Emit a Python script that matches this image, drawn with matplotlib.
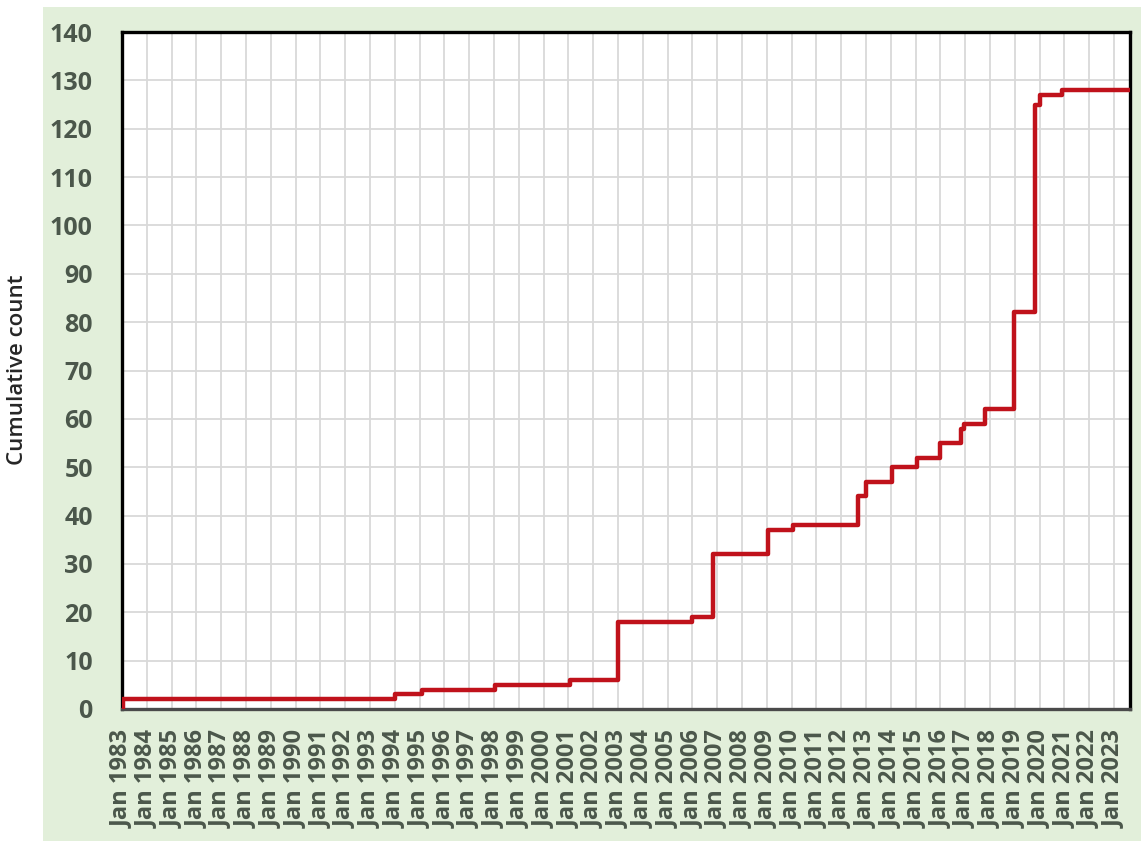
import pandas as pd
import matplotlib
matplotlib.use("Agg")
import matplotlib.pyplot as plt
import matplotlib.dates as mdates
from matplotlib.patches import Rectangle

plt.rcParams['font.family'] = ['Open Sans', 'DejaVu Sans']

# cumulative count (value holds from each date on)
event_dates = [
    "1983-01-01", "1983-01-20", "1994-01-01", "1995-02-05", "1998-01-20",
    "2001-01-20", "2003-01-01", "2006-01-01", "2006-11-05", "2009-01-20",
    "2010-01-20", "2012-09-10", "2013-01-01", "2014-01-20", "2015-01-20",
    "2016-01-01", "2016-11-05", "2016-12-15", "2017-10-20", "2018-12-20",
    "2019-10-25", "2020-01-05", "2020-11-25", "2023-08-25",
]
cumulative = [
    0, 2, 3, 4, 5,
    6, 18, 19, 32, 37,
    38, 44, 47, 50, 52,
    55, 58, 59, 62, 82,
    125, 127, 128, 128,
]
tick_years = list(range(1983, 2024))
y_ticks = list(range(0, 141, 10))

dates = pd.to_datetime(event_dates)

fig = plt.figure(figsize=(11.41, 8.41), dpi=100)
fig.patch.set_facecolor("white")
# light green panel behind the chart
fig.patches.append(Rectangle((43 / 1141, 0), 1 - 43 / 1141, 1 - 7 / 841,
                             transform=fig.transFigure, facecolor="#e2efda",
                             edgecolor="none", zorder=-1))

ax = fig.add_axes([122 / 1141, 132 / 841, 1008 / 1141, 677 / 841])
ax.set_zorder(1)
ax.set_facecolor("white")

ax.plot(dates, cumulative, drawstyle="steps-post", color="#c0121b",
        linewidth=3.2, solid_joinstyle="round", zorder=3)

ax.set_xlim(pd.Timestamp("1983-01-01"), pd.Timestamp("2023-08-25"))
ax.set_ylim(0, 140)

ax.set_xticks(pd.to_datetime([f"{y}-01-01" for y in tick_years]))
ax.xaxis.set_major_formatter(mdates.DateFormatter("%b %Y"))
ax.set_yticks(y_ticks)

ax.grid(True, color="#d9d9d9", linewidth=1.3, zorder=0)
ax.set_axisbelow(True)

ax.tick_params(axis="both", length=0)
ax.tick_params(axis="y", pad=21, labelsize=18, labelcolor="#4b574b")
ax.tick_params(axis="x", pad=15, labelsize=17, labelcolor="#4b574b",
               labelrotation=90)
for lab in ax.get_xticklabels() + ax.get_yticklabels():
    lab.set_fontweight("bold")

for side in ["left", "top", "right"]:
    ax.spines[side].set_color("black")
    ax.spines[side].set_linewidth(2.4)
ax.spines["bottom"].set_color("#4a4a4a")
ax.spines["bottom"].set_linewidth(2.4)

fig.text(18 / 1141, 1 - 370 / 841, "Cumulative count", rotation=90,
         ha="center", va="center", fontsize=16, fontweight="semibold",
         color="#262626")

fig.savefig("out.png", dpi=100)
